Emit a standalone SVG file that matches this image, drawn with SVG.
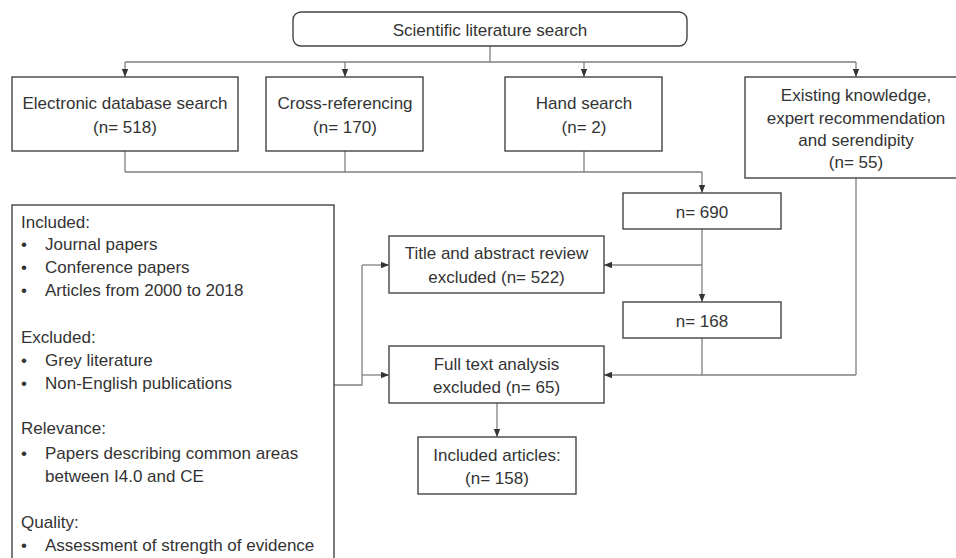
<svg xmlns="http://www.w3.org/2000/svg" width="956" height="558" viewBox="0 0 956 558">
<style>
.box{fill:#fff;stroke:#444;stroke-width:1.4}
.t{font-family:"Liberation Sans",Arial,sans-serif;font-size:17px;fill:#333}
.c{text-anchor:middle}
.ln{fill:none;stroke:#808080;stroke-width:1.3}
</style>
<defs>
<marker id="ah" markerUnits="userSpaceOnUse" markerWidth="8" markerHeight="8" refX="8" refY="4" orient="auto">
<path d="M0,0.8 L8,4 L0,7.2 z" fill="#333"/>
</marker>
</defs>
<rect width="956" height="558" fill="#fff"/>
<g id="connectors">
<path class="ln" d="M490,46 V62 M125,62 H856"/>
<path class="ln" d="M125,62 V77" marker-end="url(#ah)"/>
<path class="ln" d="M345,62 V77" marker-end="url(#ah)"/>
<path class="ln" d="M584,62 V77" marker-end="url(#ah)"/>
<path class="ln" d="M856,62 V77" marker-end="url(#ah)"/>
<path class="ln" d="M125,151 V172 M345,151 V172 M584,151 V172 M125,172 H702"/>
<path class="ln" d="M702,172 V193" marker-end="url(#ah)"/>
<path class="ln" d="M702,229 V302" marker-end="url(#ah)"/>
<path class="ln" d="M702,265 H604" marker-end="url(#ah)"/>
<path class="ln" d="M702,338 V375 M856,178 V375"/>
<path class="ln" d="M856,375 H604" marker-end="url(#ah)"/>
<path class="ln" d="M497,403 V437" marker-end="url(#ah)"/>
<path class="ln" d="M334,385 H362 V265"/>
<path class="ln" d="M362,265 H389" marker-end="url(#ah)"/>
<path class="ln" d="M362,375 H389" marker-end="url(#ah)"/>
</g>
<g id="start">
<rect class="box" x="293" y="12" width="394" height="34" rx="8"/>
<text class="t c" x="490" y="36">Scientific literature search</text>
</g>
<g id="electronic">
<rect class="box" x="12" y="77" width="226" height="74"/>
<text class="t c" x="125" y="109">Electronic database search</text>
<text class="t c" x="125" y="133">(n= 518)</text>
</g>
<g id="cross">
<rect class="box" x="266" y="77" width="157" height="74"/>
<text class="t c" x="345" y="109">Cross-referencing</text>
<text class="t c" x="345" y="133">(n= 170)</text>
</g>
<g id="hand">
<rect class="box" x="505" y="77" width="157" height="74"/>
<text class="t c" x="584" y="109">Hand search</text>
<text class="t c" x="584" y="133">(n= 2)</text>
</g>
<g id="existing">
<rect class="box" x="745" y="77" width="222" height="101"/>
<text class="t c" x="856" y="101">Existing knowledge,</text>
<text class="t c" x="856" y="124">expert recommendation</text>
<text class="t c" x="856" y="146">and serendipity</text>
<text class="t c" x="856" y="168">(n= 55)</text>
</g>
<g id="n690">
<rect class="box" x="623" y="193" width="158" height="36"/>
<text class="t c" x="702" y="218">n= 690</text>
</g>
<g id="title-review">
<rect class="box" x="389" y="236" width="215" height="57"/>
<text class="t c" x="496.5" y="259">Title and abstract review</text>
<text class="t c" x="496.5" y="283">excluded (n= 522)</text>
</g>
<g id="n168">
<rect class="box" x="623" y="302" width="158" height="36"/>
<text class="t c" x="702" y="327">n= 168</text>
</g>
<g id="fulltext">
<rect class="box" x="389" y="346" width="215" height="57"/>
<text class="t c" x="496.5" y="370">Full text analysis</text>
<text class="t c" x="496.5" y="393">excluded (n= 65)</text>
</g>
<g id="included">
<rect class="box" x="418" y="437" width="158" height="57"/>
<text class="t c" x="497" y="461">Included articles:</text>
<text class="t c" x="497" y="484">(n= 158)</text>
</g>
<g id="criteria">
<rect class="box" x="12" y="205" width="322" height="370"/>
<text class="t" x="21" y="228">Included:</text>
<text class="t" x="21" y="250">•</text><text class="t" x="45" y="250">Journal papers</text>
<text class="t" x="21" y="273">•</text><text class="t" x="45" y="273">Conference papers</text>
<text class="t" x="21" y="296">•</text><text class="t" x="45" y="296">Articles from 2000 to 2018</text>
<text class="t" x="21" y="343">Excluded:</text>
<text class="t" x="21" y="366">•</text><text class="t" x="45" y="366">Grey literature</text>
<text class="t" x="21" y="389">•</text><text class="t" x="45" y="389">Non-English publications</text>
<text class="t" x="21" y="434">Relevance:</text>
<text class="t" x="21" y="459">•</text><text class="t" x="45" y="459">Papers describing common areas</text>
<text class="t" x="45" y="482">between I4.0 and CE</text>
<text class="t" x="21" y="528">Quality:</text>
<text class="t" x="21" y="551">•</text><text class="t" x="45" y="551">Assessment of strength of evidence</text>
</g>
</svg>
